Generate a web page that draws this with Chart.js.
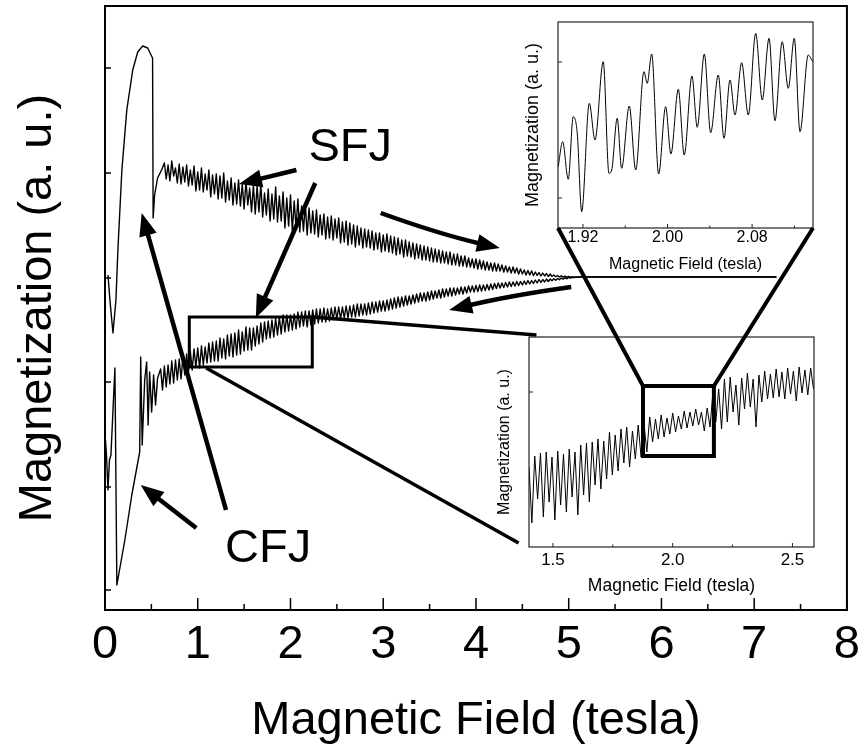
<!DOCTYPE html>
<html>
<head>
<meta charset="utf-8">
<script src="https://cdn.jsdelivr.net/npm/chart.js@4.4.1/dist/chart.umd.min.js"></script>
<style>
  html, body { margin: 0; padding: 0; background: #fff; }
  #wrap { position: relative; width: 867px; height: 753px; }
  #wrap canvas { position: absolute; left: 0; top: 0; }
</style>
</head>
<body>
<div id="wrap">
  <canvas id="main" width="867" height="753"></canvas>
  <canvas id="insetTop" width="867" height="753"></canvas>
  <canvas id="insetBottom" width="867" height="753"></canvas>
</div>
<script>
// dati (campo in tesla, magnetizzazione in unità arbitrarie)

// ramo superiore: tratto iniziale a basso campo
const upStartX = [0.032, 0.053, 0.086, 0.118, 0.139, 0.182, 0.235, 0.299, 0.353, 0.406, 0.460, 0.513, 0.519, 0.535, 0.567, 0.610];
const upStartY = [33.5, 31.0, 27.7, 31.0, 36.0, 44.0, 50.0, 54.0, 55.8, 56.4, 56.2, 55.2, 39.2, 41.5, 43.2, 44.0];

// ramo superiore: oscillazioni (campionate ogni 0.02 T da 0.64 T)
const upBandStart = 0.64;
const upBand = [
  44.7, 43.1, 44.5, 42.9, 44.9, 43.4, 44.2, 42.7, 44.6, 42.6,
  44.3, 42.8, 44.5, 42.4, 44.0, 42.5, 44.4, 41.9, 43.8, 42.0,
  44.2, 41.8, 43.6, 42.0, 44.0, 41.3, 43.5, 41.6, 43.6, 41.1,
  43.4, 41.2, 43.7, 40.8, 42.9, 41.0, 43.2, 40.5, 42.7, 40.6,
  43.0, 40.4, 42.6, 40.1, 42.9, 40.5, 42.2, 39.8, 42.5, 39.6,
  42.4, 39.8, 42.6, 39.3, 41.7, 39.5, 42.1, 38.9, 41.6, 39.1,
  42.3, 38.8, 41.4, 38.9, 41.8, 38.2, 41.2, 38.4, 41.5, 37.9,
  40.9, 38.3, 41.1, 37.8, 40.4, 37.9, 40.6, 37.5, 40.2, 37.7,
  39.9, 37.6, 40.0, 37.3, 39.5, 37.5, 39.6, 37.1, 39.3, 37.2,
  39.4, 37.0, 39.1, 37.2, 39.2, 36.7, 38.8, 36.8, 38.9, 36.5,
  38.7, 36.6, 38.5, 36.3, 38.4, 36.5, 38.2, 36.2, 38.1, 36.3,
  38.0, 36.2, 37.9, 36.0, 37.7, 36.1, 37.7, 35.8, 37.5, 35.9,
  37.6, 35.8, 37.4, 35.7, 37.3, 35.5, 37.2, 35.6, 37.0, 35.3,
  37.0, 35.4, 36.8, 35.3, 36.7, 35.1, 36.6, 35.2, 36.5, 35.0,
  36.4, 35.0, 36.3, 34.9, 36.2, 34.8, 36.1, 34.8, 36.0, 34.7,
  35.9, 34.7, 35.8, 34.6, 35.8, 34.5, 35.6, 34.5, 35.6, 34.4,
  35.4, 34.4, 35.4, 34.3, 35.2, 34.3, 35.1, 34.2, 35.1, 34.1,
  35.0, 34.1, 34.9, 34.0, 34.8, 34.0, 34.7, 33.9, 34.7, 33.9,
  34.6, 33.9, 34.5, 33.8, 34.4, 33.8, 34.3, 33.7, 34.3, 33.7,
  34.2, 33.6, 34.1, 33.6, 34.0, 33.5, 33.95, 33.5, 33.9, 33.45,
  33.8, 33.45, 33.75, 33.4, 33.7, 33.4, 33.65, 33.35, 33.6, 33.35,
  33.5, 33.32, 33.45, 33.3, 33.42, 33.28, 33.38, 33.28, 33.35, 33.28,
  33.33, 33.28, 33.31, 33.29, 33.3];

// ramo inferiore: tratto a basso campo
const lowStartX = [0.005, 0.016, 0.032, 0.048, 0.064, 0.107, 0.128, 0.214, 0.289, 0.374, 0.385, 0.401, 0.428, 0.449, 0.465, 0.481, 0.503, 0.524, 0.545, 0.567];
const lowStartY = [17.0, 15.5, 12.0, 15.0, 15.5, 24.2, 2.5, 7.0, 11.5, 15.8, 25.3, 16.5, 23.0, 24.8, 18.5, 23.8, 19.8, 23.5, 20.5, 23.2];

// ramo inferiore: oscillazioni (ogni 0.02 T da 0.60 T)
const lowBandStart = 0.60;
const lowBand = [
  24.1, 22.0, 24.4, 22.3, 24.5, 22.6, 24.9, 22.7, 25.0, 23.0,
  25.1, 23.1, 25.3, 23.5, 25.6, 23.8, 25.9, 24.0, 26.1, 24.3,
  26.2, 24.2, 26.4, 24.5, 26.3, 24.7, 26.7, 24.8, 26.8, 24.9,
  26.9, 24.9, 27.2, 25.2, 27.1, 25.1, 27.5, 25.4, 27.6, 25.3,
  27.7, 25.5, 28.0, 25.6, 27.8, 25.9, 28.3, 26.0, 28.2, 26.0,
  28.2, 26.4, 28.4, 26.6, 28.7, 26.8, 28.8, 27.1, 28.9, 27.2,
  29.0, 27.3, 29.2, 27.5, 29.3, 27.6, 29.5, 27.8, 29.5, 27.9,
  29.5, 28.0, 29.6, 28.1, 29.8, 28.3, 29.8, 28.4, 29.9, 28.3,
  29.9, 28.5, 30.0, 28.6, 30.1, 28.7, 30.1, 28.8, 30.2, 28.8,
  30.1, 28.9, 30.2, 29.0, 30.3, 29.1, 30.3, 29.1, 30.3, 29.2,
  30.4, 29.2, 30.4, 29.3, 30.5, 29.3, 30.6, 29.4, 30.6, 29.5,
  30.6, 29.5, 30.7, 29.6, 30.8, 29.7, 30.8, 29.8, 30.9, 29.9,
  30.9, 29.9, 31.0, 30.0, 31.1, 30.1, 31.2, 30.2, 31.3, 30.3,
  31.3, 30.4, 31.4, 30.5, 31.4, 30.6, 31.5, 30.7, 31.6, 30.8,
  31.7, 30.9, 31.7, 30.9, 31.8, 31.0, 31.9, 31.1, 31.9, 31.2,
  32.0, 31.2, 32.1, 31.3, 32.1, 31.4, 32.2, 31.4, 32.2, 31.5,
  32.2, 31.6, 32.3, 31.6, 32.3, 31.7, 32.4, 31.8, 32.4, 31.8,
  32.45, 31.85, 32.5, 31.9, 32.5, 31.95, 32.55, 32.0, 32.6, 32.05,
  32.65, 32.15, 32.7, 32.2, 32.7, 32.25, 32.75, 32.3, 32.8, 32.35,
  32.8, 32.4, 32.85, 32.45, 32.85, 32.5, 32.9, 32.55, 32.95, 32.6,
  32.95, 32.65, 33.0, 32.7, 33.05, 32.75, 33.05, 32.8, 33.1, 32.85,
  33.1, 32.92, 33.13, 32.97, 33.16, 33.02, 33.2, 33.07, 33.23, 33.12,
  33.26, 33.18, 33.28, 33.24, 33.3, 33.28, 33.3];

const bandStep = 0.02;

// coda ad alto campo (i due rami coincidono)
const tailX = [7.24];
const tailY = [33.3];

const mainXTicks = [0, 1, 2, 3, 4, 5, 6, 7, 8];
const mainYTicks = [2.0, 12.3, 22.8, 33.2, 43.7, 54.2];

// inserto in alto (zoom 1.90 - 2.14 T)
const topX = [1.8966, 1.9008, 1.9061, 1.9108, 1.9146, 1.9188, 1.9260, 1.9314, 1.9392, 1.9446,
  1.9472, 1.9524, 1.9566, 1.9638, 1.9699, 1.9777, 1.9808, 1.9850, 1.9916, 1.9982,
  2.0032, 2.0102, 2.0158, 2.0231, 2.0281, 2.0348, 2.0408, 2.0480, 2.0534, 2.0591,
  2.0638, 2.0701, 2.0764, 2.0834, 2.0896, 2.0960, 2.1016, 2.1085, 2.1142, 2.1199,
  2.1253, 2.1331, 2.1373];
const topY = [6.13, 8.63, 4.87, 11.13, 9.47, 1.63, 12.47, 8.8, 16.63, 5.47,
  5.8, 10.97, 5.97, 12.2, 5.8, 15.63, 14.47, 17.4, 5.4, 12.13,
  7.4, 13.87, 7.3, 15.2, 10.07, 17.4, 9.53, 15.3, 8.97, 14.8,
  11.3, 16.53, 11.3, 19.47, 12.8, 18.97, 10.73, 18.63, 13.97, 18.97,
  9.63, 17.3, 16.63];
const topXTicks = [1.92, 2.00, 2.08];
const topXMinor = [1.96, 2.04, 2.12];
const topYTicks = [3.0, 16.6];

// inserto in basso (1.4 - 2.6 T, ogni 0.012 T)
const botStart = 1.400;
const botStep = 0.012;
const botY = [8.0, 2.4, 9.1, 4.8, 9.4, 3.0, 9.5, 4.5, 9.0, 2.7,
  9.6, 4.2, 9.3, 3.5, 9.8, 5.0, 9.5, 3.2, 10.2, 5.2,
  10.4, 4.5, 10.5, 6.2, 10.8, 5.8, 10.6, 6.8, 11.5, 7.2,
  11.2, 7.6, 11.8, 8.4, 12.0, 8.0, 11.6, 8.8, 12.2, 9.0,
  12.4, 9.5, 13.0, 10.5, 12.8, 10.8, 13.2, 11.0, 12.9, 11.3,
  13.4, 11.5, 13.1, 11.8, 13.6, 11.9, 13.5, 12.1, 13.8, 12.2,
  13.5, 11.6, 13.9, 12.0, 15.5, 12.5, 15.8, 11.8, 16.8, 12.5,
  17.0, 13.5, 16.2, 12.2, 16.9, 13.8, 17.4, 14.0, 16.8, 12.0,
  17.2, 14.5, 17.6, 14.8, 17.3, 14.9, 17.8, 15.0, 17.5, 14.8,
  17.9, 15.3, 17.6, 14.6, 18.0, 15.4, 17.7, 15.2, 17.9, 15.8];
const botXTicks = [1.5, 2.0, 2.5];
const botXMinor = [1.75, 2.25];
const botYTicks = [15.5];

// annotazioni (coordinate nei dati del grafico principale)
const arrows = [
  { from: [2.064, 44.0], to: [1.444, 42.6] },
  { from: [2.267, 42.7], to: [1.626, 29.2] },
  { from: [2.973, 39.7], to: [4.257, 36.2], via: [3.615, 37.55] },
  { from: [5.027, 32.3], to: [3.711, 30.0], via: [4.37, 31.45] },
  { from: [1.305, 10.0], to: [0.396, 39.7] },
  { from: [0.984, 8.2], to: [0.385, 12.5] }
];
const zoomBox = { x0: 0.909, x1: 2.235, y0: 24.3, y1: 29.3 };
const links = [
  { from: [2.235, 29.3], to: [4.652, 27.5] },
  { from: [1.091, 24.2], to: [4.46, 6.7] }
];
const labels = [
  { text: 'SFJ', at: [2.193, 44.9] },
  { text: 'CFJ', at: [1.294, 4.8] }
];
const botBox = { x0: 1.876, x1: 2.172, y0: 9.1, y1: 16.1 };

const FONT = "'Liberation Sans', Arial, Helvetica, sans-serif";

function zip(xs, ys) {
  return xs.map((v, i) => ({ x: v, y: ys[i] }));
}
function campiona(start, step, ys) {
  return ys.map((v, i) => ({ x: +(start + i * step).toFixed(4), y: v }));
}

const upPoints = [...zip(upStartX, upStartY), ...campiona(upBandStart, bandStep, upBand), ...zip(tailX, tailY)];
const lowPoints = [...zip(lowStartX, lowStartY), ...campiona(lowBandStart, bandStep, lowBand), ...zip(tailX, tailY)];

function lineaDati(points, width) {
  return {
    data: points,
    borderColor: '#000',
    borderWidth: width,
    borderJoinStyle: 'round',
    pointRadius: 0,
    tension: 0,
    fill: false
  };
}

function freccia(ctx, p0, p1, ctrl) {
  const headLen = 23, headW = 18;
  const ref = ctrl || p0;
  const ang = Math.atan2(p1[1] - ref[1], p1[0] - ref[0]);
  const c = Math.cos(ang), s = Math.sin(ang);
  const bx = p1[0] - c * headLen * 0.8, by = p1[1] - s * headLen * 0.8;
  ctx.beginPath();
  ctx.moveTo(p0[0], p0[1]);
  if (ctrl) ctx.quadraticCurveTo(ctrl[0], ctrl[1], bx, by);
  else ctx.lineTo(bx, by);
  ctx.stroke();
  const hx = p1[0] - c * headLen, hy = p1[1] - s * headLen;
  ctx.beginPath();
  ctx.moveTo(p1[0], p1[1]);
  ctx.lineTo(hx - s * headW / 2, hy + c * headW / 2);
  ctx.lineTo(hx + s * headW / 2, hy - c * headW / 2);
  ctx.closePath();
  ctx.fill();
}

const mainDecor = {
  id: 'mainDecor',
  afterDraw(chart) {
    const { ctx, chartArea: a, scales: { x, y } } = chart;
    const P = (v) => [x.getPixelForValue(v[0]), y.getPixelForValue(v[1])];
    ctx.save();
    ctx.strokeStyle = '#000';
    ctx.fillStyle = '#000';
    ctx.lineWidth = 2;
    ctx.strokeRect(a.left, a.top, a.right - a.left, a.bottom - a.top);

    ctx.beginPath();
    for (let v = 0; v <= 8; v += 0.5) {
      const p = x.getPixelForValue(v);
      const len = mainXTicks.includes(v) ? 12 : 6;
      ctx.moveTo(p, a.bottom);
      ctx.lineTo(p, a.bottom - len);
    }
    mainYTicks.forEach(v => {
      const p = y.getPixelForValue(v);
      ctx.moveTo(a.left, p);
      ctx.lineTo(a.left + 6, p);
    });
    ctx.lineWidth = 1.5;
    ctx.stroke();

    // riquadro e linee di collegamento
    ctx.lineWidth = 3;
    const b0 = P([zoomBox.x0, zoomBox.y1]), b1 = P([zoomBox.x1, zoomBox.y0]);
    ctx.strokeRect(b0[0], b0[1], b1[0] - b0[0], b1[1] - b0[1]);
    ctx.lineWidth = 3.5;
    links.forEach(l => {
      const f = P(l.from), t = P(l.to);
      ctx.beginPath();
      ctx.moveTo(f[0], f[1]);
      ctx.lineTo(t[0], t[1]);
      ctx.stroke();
    });

    // frecce
    ctx.lineWidth = 4.5;
    ctx.lineCap = 'butt';
    arrows.forEach(ar => {
      freccia(ctx, P(ar.from), P(ar.to), ar.via ? P(ar.via) : null);
    });

    ctx.font = '47px ' + FONT;
    ctx.textAlign = 'left';
    ctx.textBaseline = 'alphabetic';
    labels.forEach(l => {
      const p = P(l.at);
      ctx.fillText(l.text, p[0], p[1]);
    });
    ctx.restore();
  }
};

function cornice(chart, xTicks, xMinor, yTicks) {
  const { ctx, chartArea: a, scales: { x, y } } = chart;
  ctx.save();
  ctx.strokeStyle = '#222';
  ctx.lineWidth = 1.2;
  ctx.strokeRect(a.left, a.top, a.right - a.left, a.bottom - a.top);
  ctx.beginPath();
  xTicks.forEach(v => { const p = x.getPixelForValue(v); ctx.moveTo(p, a.bottom); ctx.lineTo(p, a.bottom - 4); });
  xMinor.forEach(v => { const p = x.getPixelForValue(v); ctx.moveTo(p, a.bottom); ctx.lineTo(p, a.bottom - 2.5); });
  yTicks.forEach(v => { const p = y.getPixelForValue(v); ctx.moveTo(a.left, p); ctx.lineTo(a.left + 4, p); });
  ctx.lineWidth = 1;
  ctx.stroke();
  ctx.restore();
}

const sfondoBianco = {
  id: 'sfondoBianco',
  beforeDraw(chart) {
    const { ctx, chartArea: a } = chart;
    ctx.save();
    ctx.fillStyle = '#fff';
    ctx.fillRect(a.left, a.top, a.right - a.left, a.bottom - a.top);
    ctx.restore();
  }
};

const baseOptions = {
  responsive: false,
  animation: false,
  devicePixelRatio: 1,
  events: [],
  plugins: { legend: { display: false }, tooltip: { enabled: false } }
};

const mainChart = new Chart(document.getElementById('main'), {
  type: 'line',
  data: { datasets: [lineaDati(upPoints, 1.4), lineaDati(lowPoints, 1.4)] },
  options: {
    ...baseOptions,
    layout: { padding: { left: 0, top: 6, right: 14, bottom: 0 } },
    scales: {
      x: {
        type: 'linear', min: 0, max: 8,
        afterFit(s) { s.height = 143; },
        afterBuildTicks(s) { s.ticks = mainXTicks.map(v => ({ value: v })); },
        grid: { display: false, drawTicks: false },
        border: { display: false },
        ticks: { padding: 7, color: '#000', font: { family: FONT, size: 47 }, callback: v => String(v) },
        title: { display: true, text: 'Magnetic Field (tesla)', color: '#000', font: { family: FONT, size: 47 }, padding: { top: 0, bottom: 4 } }
      },
      y: {
        type: 'linear', min: 0, max: 60.4,
        afterFit(s) { s.width = 105; },
        grid: { display: false, drawTicks: false },
        border: { display: false },
        ticks: { display: false },
        title: { display: true, text: 'Magnetization (a. u.)', color: '#000', font: { family: FONT, size: 47 }, padding: { top: 9.4, bottom: 0 } }
      }
    }
  },
  plugins: [mainDecor]
});

const topChart = new Chart(document.getElementById('insetTop'), {
  type: 'line',
  data: { datasets: [{ ...lineaDati(zip(topX, topY), 1), cubicInterpolationMode: 'monotone' }] },
  options: {
    ...baseOptions,
    layout: { padding: { left: 518, top: 22, right: 54, bottom: 465 } },
    scales: {
      x: {
        type: 'linear', min: 1.8964, max: 2.1376,
        afterFit(s) { s.height = 60; },
        afterBuildTicks(s) { s.ticks = topXTicks.map(v => ({ value: v })); },
        grid: { display: false, drawTicks: false },
        border: { display: false },
        ticks: { padding: 0, color: '#000', font: { family: FONT, size: 16 }, callback: v => v.toFixed(2) },
        title: { display: true, text: 'Magnetic Field (tesla)', color: '#000', font: { family: FONT, size: 16 }, padding: { top: 0, bottom: 13.4 } }
      },
      y: {
        type: 'linear', min: 0, max: 20.6,
        afterFit(s) { s.width = 40; },
        grid: { display: false, drawTicks: false },
        border: { display: false },
        ticks: { display: false },
        title: { display: true, text: 'Magnetization (a. u.)', color: '#000', font: { family: FONT, size: 18 }, padding: { top: 3.8, bottom: 0 } }
      }
    }
  },
  plugins: [sfondoBianco, {
    id: 'topDecor',
    afterDraw(chart) { cornice(chart, topXTicks, topXMinor, topYTicks); }
  }]
});

const bottomChart = new Chart(document.getElementById('insetBottom'), {
  type: 'line',
  data: { datasets: [lineaDati(campiona(botStart, botStep, botY), 1)] },
  options: {
    ...baseOptions,
    layout: { padding: { left: 489, top: 337, right: 53, bottom: 146 } },
    scales: {
      x: {
        type: 'linear', min: 1.400, max: 2.590,
        afterFit(s) { s.height = 60; },
        afterBuildTicks(s) { s.ticks = botXTicks.map(v => ({ value: v })); },
        grid: { display: false, drawTicks: false },
        border: { display: false },
        ticks: { padding: 2.8, color: '#000', font: { family: FONT, size: 17 }, callback: v => v.toFixed(1) },
        title: { display: true, text: 'Magnetic Field (tesla)', color: '#000', font: { family: FONT, size: 17.5 }, padding: { top: 0, bottom: 10.5 } }
      },
      y: {
        type: 'linear', min: 0, max: 21,
        afterFit(s) { s.width = 40; },
        grid: { display: false, drawTicks: false },
        border: { display: false },
        ticks: { display: false },
        title: { display: true, text: 'Magnetization (a. u.)', color: '#000', font: { family: FONT, size: 16 }, padding: { top: 5.9, bottom: 0 } }
      }
    }
  },
  plugins: [sfondoBianco, {
    id: 'bottomDecor',
    afterDraw(chart) {
      cornice(chart, botXTicks, botXMinor, botYTicks);
      const { ctx, scales: { x, y } } = chart;
      const l = x.getPixelForValue(botBox.x0), r = x.getPixelForValue(botBox.x1);
      const t = y.getPixelForValue(botBox.y1), b = y.getPixelForValue(botBox.y0);
      const ta = topChart.chartArea;
      ctx.save();
      ctx.strokeStyle = '#000';
      ctx.lineWidth = 4;
      ctx.strokeRect(l, t, r - l, b - t);
      ctx.beginPath();
      ctx.moveTo(l, t); ctx.lineTo(ta.left, ta.bottom);
      ctx.moveTo(r, t); ctx.lineTo(ta.right, ta.bottom);
      ctx.stroke();
      ctx.restore();
    }
  }]
});
</script>
</body>
</html>
